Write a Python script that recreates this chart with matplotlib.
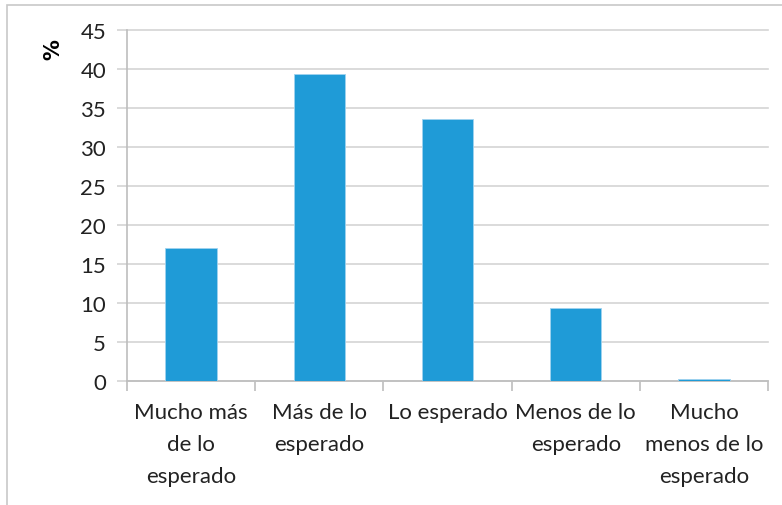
import matplotlib
matplotlib.use("Agg")
import matplotlib.pyplot as plt
from matplotlib.patches import Rectangle

# Survey answers: share of respondents (%) per category
categories = ["Mucho más\nde lo\nesperado", "Más de lo\nesperado", "Lo esperado",
              "Menos de lo\nesperado", "Mucho\nmenos de lo\nesperado"]
percent = [17.1, 39.4, 33.6, 9.3, 0.3]
yticks = [0, 5, 10, 15, 20, 25, 30, 35, 40, 45]

plt.rcParams['font.family'] = ['Lato', 'DejaVu Sans']

fig = plt.figure(figsize=(7.82, 5.06), dpi=100)
ax = fig.add_axes([127/782, 1 - 382/506, (768-127)/782, (382-31)/506])

x = range(len(categories))
ax.bar(x, percent, width=0.4, color="#1F9BD7", edgecolor="#9fd3ef", linewidth=0.6, zorder=3)

ax.set_xlim(-0.5, len(categories) - 0.5)
ax.set_ylim(0, 45)
ax.set_yticks(yticks)
ax.set_yticklabels([str(v) for v in yticks], fontsize=16, color="#222222")
ax.yaxis.grid(True, color="#d4d4d4", linewidth=1.2, zorder=0)
for gl in ax.get_ygridlines():
    gl.set_clip_on(False)

# category boundaries get the tick marks, labels sit under the bars
ax.set_xticks([i - 0.5 for i in range(len(categories) + 1)])
ax.set_xticklabels([])
ax.set_xticks(list(x), minor=True)
ax.set_xticklabels(categories, minor=True, fontsize=16, linespacing=1.75,
                   color="#222222", va="top")
ax.tick_params(axis="x", which="minor", length=0, pad=15)
ax.tick_params(axis="x", which="major", length=7, color="#bdbdbd", width=1.2)
ax.tick_params(axis="y", length=7, color="#d4d4d4", width=1.2, pad=8)

for side in ["top", "right"]:
    ax.spines[side].set_visible(False)
ax.spines["left"].set_color("#bdbdbd")
ax.spines["bottom"].set_color("#bdbdbd")
ax.spines["left"].set_linewidth(1.2)
ax.spines["bottom"].set_linewidth(1.2)

fig.text(53/782, 1 - 50/506, "%", rotation=90, fontsize=15, fontweight="bold",
         ha="center", va="center", family="DejaVu Sans")

# chart frame
fig.patches.append(Rectangle((7/782, -0.1), 1.1, 1 - 6/506 + 0.1, transform=fig.transFigure,
                             fill=False, edgecolor="#c8c8c8", linewidth=1.2))

fig.savefig("out.png", dpi=100)
